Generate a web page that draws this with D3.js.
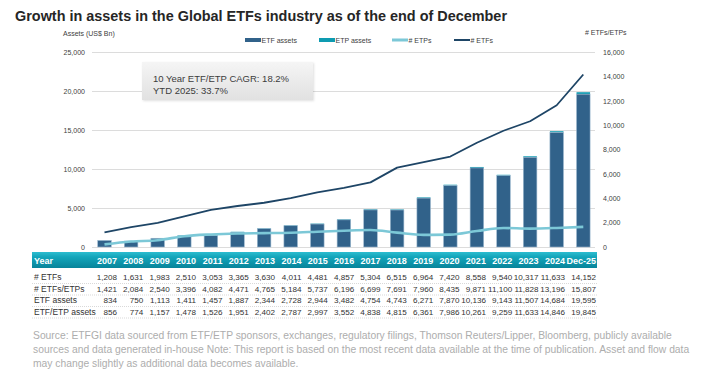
<!DOCTYPE html>
<html><head><meta charset="utf-8">
<script src="https://cdn.jsdelivr.net/npm/d3@7"></script>
<style>
html,body{margin:0;padding:0;background:#fff;}
svg{display:block;font-family:"Liberation Sans",Arial,sans-serif;}
</style></head>
<body>
<svg id="c" width="704" height="382"></svg>
<script>
// ---- data ----
const years = ["2007","2008","2009","2010","2011","2012","2013","2014","2015","2016","2017","2018","2019","2020","2021","2022","2023","2024","Dec-25"];
const numETFs = [1208,1631,1983,2510,3053,3365,3630,4011,4481,4857,5304,6515,6964,7420,8558,9540,10317,11633,14152];
const numETFsETPs = [1421,2084,2540,3396,4082,4471,4765,5184,5737,6196,6699,7691,7960,8435,9871,11100,11828,13196,15807];
const numETPs = [213,453,557,886,1029,1106,1135,1173,1256,1339,1395,1176,996,1015,1313,1560,1511,1563,1655];
const etfAssets = [834,750,1113,1411,1457,1887,2344,2728,2944,3482,4754,4743,6271,7870,10136,9143,11507,14684,19595];
const etpAssets = [22,24,44,67,69,64,58,59,53,70,84,72,90,116,125,116,126,162,250];
const etfEtpAssets = [856,774,1157,1478,1526,1951,2402,2787,2997,3552,4838,4815,6361,7986,10261,9259,11633,14846,19845];
const leftTicks = [0,5000,10000,15000,20000,25000];
const rightTicks = [0,2000,4000,6000,8000,10000,12000,14000,16000];
const titleText = "Growth in assets in the Global ETFs industry as of the end of December";
const noteLines = ["10 Year ETF/ETP CAGR: 18.2%","YTD 2025: 33.7%"];
const tableRows = [
  {label:"# ETFs", values:numETFs},
  {label:"# ETFs/ETPs", values:numETFsETPs},
  {label:"ETF assets", values:etfAssets},
  {label:"ETF/ETP assets", values:etfEtpAssets}
];
const sourceLines = [
  "Source: ETFGI data sourced from ETF/ETP sponsors, exchanges, regulatory filings, Thomson Reuters/Lipper, Bloomberg, publicly available",
  "sources and data generated in-house Note: This report is based on the most recent data available at the time of publication. Asset and flow data",
  "may change slightly as additional data becomes available."
];

// ---- colors ----
const C = {etf:"#31628a", etp:"#0e9bb1", etpsLine:"#7cc8d7", etfsLine:"#1e4566", grid:"#dcdcdc", text:"#404040"};

const svg = d3.select("#c");
svg.append("rect").attr("width",704).attr("height",382).attr("fill","#fff");
const defs = svg.append("defs");
const hg = defs.append("linearGradient").attr("id","hdr").attr("x1",0).attr("y1",0).attr("x2",0).attr("y2",1);
hg.append("stop").attr("offset","0%").attr("stop-color","#2dbdd0");
hg.append("stop").attr("offset","30%").attr("stop-color","#14a6bb");
hg.append("stop").attr("offset","100%").attr("stop-color","#07849a");
const bg = defs.append("linearGradient").attr("id","box").attr("x1",0).attr("y1",0).attr("x2",0).attr("y2",1);
bg.append("stop").attr("offset","0%").attr("stop-color","#f5f5f5");
bg.append("stop").attr("offset","100%").attr("stop-color","#e1e1e1");
const sh = defs.append("filter").attr("id","sh").attr("x","-10%").attr("y","-20%").attr("width","130%").attr("height","160%");
sh.append("feDropShadow").attr("dx",1).attr("dy",1).attr("stdDeviation",1).attr("flood-color","#000").attr("flood-opacity",0.12);

// ---- title ----
svg.append("text").attr("x",15).attr("y",21)
  .attr("font-size",15.5).attr("font-weight","bold").attr("fill","#262626")
  .attr("textLength",492).attr("lengthAdjust","spacingAndGlyphs")
  .text(titleText);

// ---- scales ----
const plotL = 92, plotR = 595, plotT = 52, plotB = 247;
const x = d3.scaleBand().domain(years).range([91.2,596.6]).paddingInner(0.49).paddingOuter(0.245);
const yL = d3.scaleLinear().domain([0,25000]).range([plotB,plotT]);
const yR = d3.scaleLinear().domain([0,16000]).range([plotB,plotT]);
const fmt = d3.format(",");

// left axis with grid
const gL = svg.append("g").attr("transform",`translate(${plotL},0)`)
  .call(d3.axisLeft(yL).tickValues(leftTicks).tickFormat(fmt).tickSize(-(plotR-plotL)).tickPadding(7));
gL.select(".domain").remove();
gL.selectAll(".tick line").attr("stroke",C.grid).attr("stroke-width",1);
gL.selectAll(".tick text").attr("font-size",7).attr("fill",C.text).attr("font-family","Liberation Sans, Arial, sans-serif");

const gR = svg.append("g").attr("transform",`translate(${plotR},0)`)
  .call(d3.axisRight(yR).tickValues(rightTicks).tickFormat(fmt).tickSize(0).tickPadding(8));
gR.select(".domain").remove();
gR.selectAll(".tick text").attr("font-size",7).attr("fill",C.text).attr("font-family","Liberation Sans, Arial, sans-serif");

svg.append("text").attr("x",63).attr("y",36).attr("font-size",7).attr("fill",C.text).text("Assets (US$ Bn)");
svg.append("text").attr("x",585).attr("y",35).attr("font-size",7).attr("fill",C.text).text("# ETFs/ETPs");

// ---- bars ----
const barData = years.map((y,i)=>({y, etf:etfAssets[i], etp:etpAssets[i]}));
const gb = svg.append("g");
gb.selectAll("rect.etp").data(barData).join("rect").attr("class","etp")
  .attr("x",d=>x(d.y)).attr("width",x.bandwidth())
  .attr("y",d=>yL(d.etf+d.etp)).attr("height",d=>yL(d.etf)-yL(d.etf+d.etp))
  .attr("fill",C.etp);
gb.selectAll("rect.etf").data(barData).join("rect").attr("class","etf")
  .attr("x",d=>x(d.y)).attr("width",x.bandwidth())
  .attr("y",d=>yL(d.etf)).attr("height",d=>yL(0)-yL(d.etf))
  .attr("fill",C.etf).attr("stroke","#9db9cf").attr("stroke-width",0.6);

// ---- lines ----
const cx = d=>x(d)+x.bandwidth()/2;
svg.append("path").datum(years.map((y,i)=>[cx(y),yR(numETPs[i])]))
  .attr("d",d3.line().curve(d3.curveMonotoneX)).attr("fill","none")
  .attr("stroke",C.etpsLine).attr("stroke-width",2.6);
svg.append("path").datum(years.map((y,i)=>[cx(y),yR(numETFs[i])]))
  .attr("d",d3.line()).attr("fill","none")
  .attr("stroke",C.etfsLine).attr("stroke-width",1.8).attr("stroke-linejoin","round");

// ---- legend ----
const legend = [
  {name:"ETF assets", type:"bar", color:C.etf, x:245},
  {name:"ETP assets", type:"bar", color:C.etp, x:319},
  {name:"# ETPs", type:"line", color:C.etpsLine, x:392, w:3},
  {name:"# ETFs", type:"line", color:C.etfsLine, x:454, w:2}
];
const lg = svg.append("g").selectAll("g").data(legend).join("g").attr("transform",d=>`translate(${d.x},40)`);
lg.append("rect").attr("x",0).attr("width",16).attr("y",d=>d.type==="bar"?-2:-(d.w/2)).attr("height",d=>d.type==="bar"?4:d.w).attr("fill",d=>d.color);
lg.append("text").attr("x",16.5).attr("y",2.5).attr("font-size",7).attr("fill",C.text).text(d=>d.name);

// ---- annotation box ----
svg.append("rect").attr("x",142).attr("y",62).attr("width",171).attr("height",38)
  .attr("fill","url(#box)").attr("filter","url(#sh)");
svg.append("g").selectAll("text").data(noteLines).join("text")
  .attr("x",153).attr("y",(d,i)=>82+i*12).attr("font-size",9.5).attr("fill","#3c3c3c").text(d=>d);

// ---- table ----
const colRight = (i)=> i<years.length-1 ? 117+i*26.35 : 596;
svg.append("rect").attr("x",32).attr("y",252).attr("width",565).attr("height",16).attr("fill","url(#hdr)");
const th = svg.append("g").attr("font-size",9).attr("font-weight","bold").attr("fill","#fff");
th.append("text").attr("x",34).attr("y",263.5).text("Year");
th.selectAll("text.yr").data(years).join("text").attr("class","yr")
  .attr("x",(d,i)=>colRight(i)).attr("y",263.5).attr("text-anchor","end").text(d=>d);

const rowY = [280,291.5,303,314.5];
const tb = svg.append("g").attr("font-size",8.1).attr("fill","#333");
tableRows.forEach((r,ri)=>{
  tb.append("text").attr("x",34).attr("y",rowY[ri]).attr("font-size",8.5).text(r.label);
  tb.selectAll(null).data(r.values).join("text")
    .attr("x",(d,i)=>colRight(i)).attr("y",rowY[ri]).attr("text-anchor","end").text(d=>fmt(d));
  svg.append("line").attr("x1",32).attr("x2",597).attr("y1",rowY[ri]+3.5).attr("y2",rowY[ri]+3.5)
    .attr("stroke","#cfcfcf").attr("stroke-width",0.8).attr("stroke-dasharray","1,1");
});

// ---- source ----
const src = svg.append("g").attr("fill","#adadad").attr("font-family","Liberation Sans, Arial, sans-serif");
const st = src.selectAll("text").data(sourceLines).join("text")
  .attr("x",33).attr("y",(d,i)=>339+i*14).attr("font-size",10).text(d=>d);
const len = st.nodes()[1].getComputedTextLength();
const fs = 10*657/len;
st.attr("font-size",fs);
</script>
</body></html>
